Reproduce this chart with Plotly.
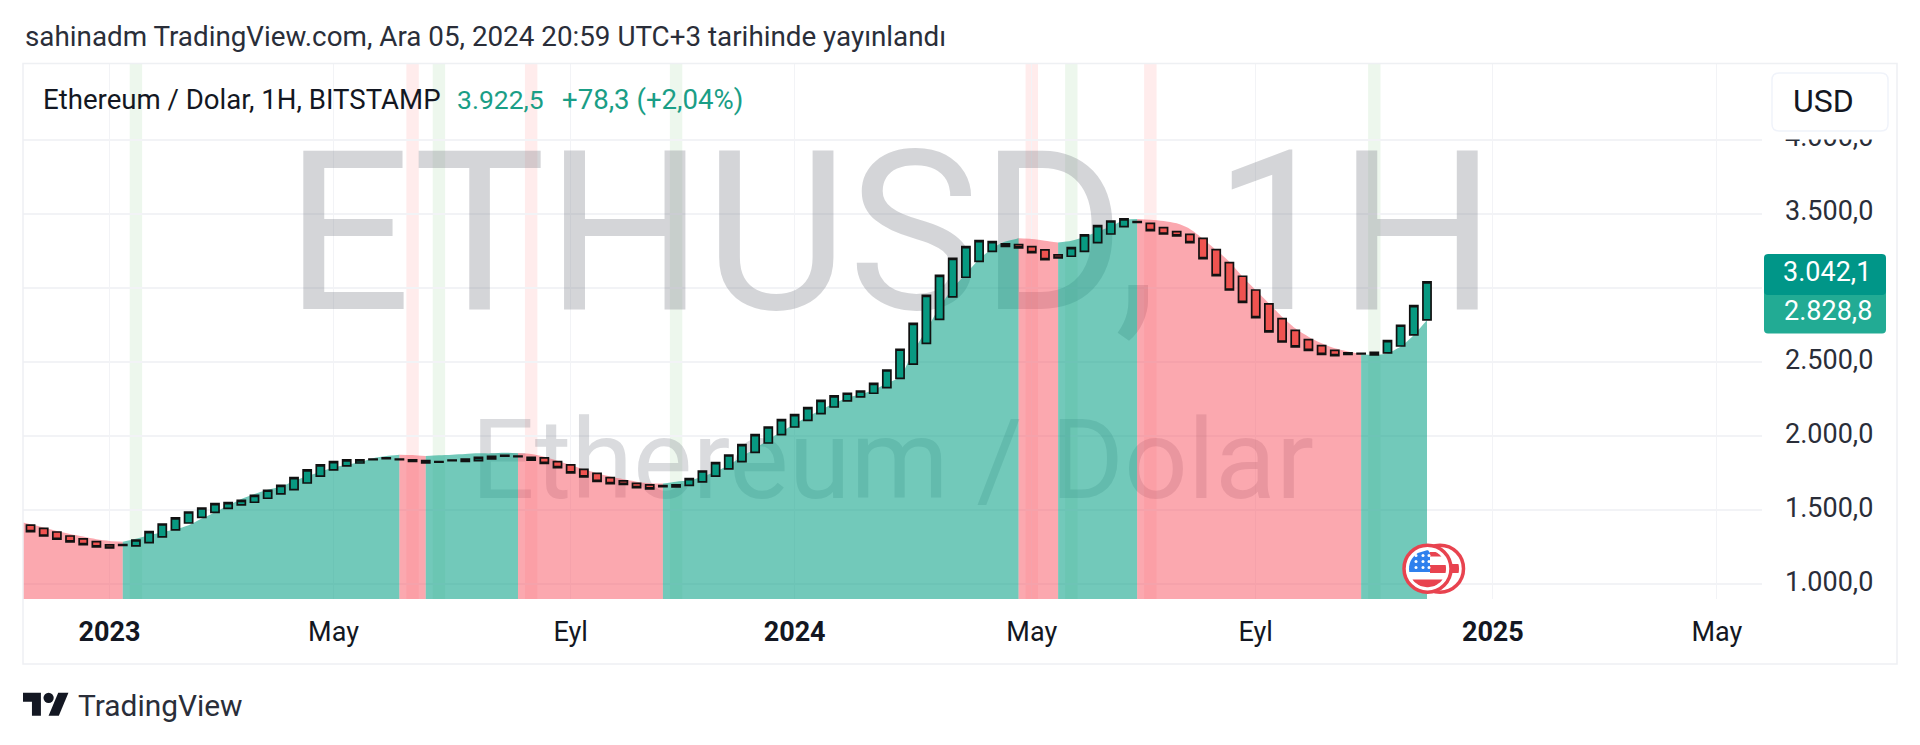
import math
import numpy as np
import pandas as pd
import plotly.graph_objects as go

# ---------------- data ----------------
first_week = "2022-11-21"
candle_open = [1400,1378,1353,1326,1306,1288,1266,1263,1259,1281,1320,1367,1414,1452,1486,1513,1536,1554,1581,1610,
               1639,1684,1731,1772,1799,1819,1842,1848,1846,1840,1835,1824,1835,1830,1835,1846,1866,1866,1857,1853,
               1828,1806,1776,1749,1720,1698,1682,1671,1666,1657,1668,1691,1731,1779,1828,1891,1954,2011,2062,2107,
               2152,2197,2238,2265,2290,2328,2391,2487,2627,2789,2940,3073,3181,3248,3282,3293,3280,3258,3224,3215,
               3248,3307,3365,3415,3449,3437,3408,3381,3363,3336,3260,3172,3080,2987,2893,2794,2715,2652,2611,2580,
               2562,2555,2549,2562,2609,2684,2785]
candle_close = [1356,1326,1304,1286,1268,1252,1245,1268,1299,1356,1407,1448,1488,1515,1545,1551,1567,1601,1635,1668,
                1720,1772,1806,1828,1840,1840,1846,1853,1842,1830,1819,1828,1839,1846,1857,1864,1871,1862,1839,1817,
                1788,1752,1725,1695,1680,1675,1653,1644,1659,1671,1713,1765,1821,1873,1943,2011,2062,2112,2145,2193,
                2242,2272,2290,2305,2357,2447,2587,2762,2951,3086,3201,3280,3320,3314,3298,3271,3239,3192,3203,3273,
                3359,3422,3453,3467,3444,3388,3365,3352,3307,3199,3084,2987,2904,2800,2704,2636,2603,2580,2553,2544,
                2553,2560,2566,2645,2749,2882,3042.1]
curve_start = "2022-11-14"
curve_values = [1425,1405,1383,1360,1340,1322,1304,1293,1288,1308,1331,1351,1371,1399,1444,1487,1532,1576,1610,1639,
                1659,1698,1732,1759,1790,1806,1825,1851,1866,1875,1873,1866,1871,1875,1880,1884,1884,1889,1884,1880,
                1862,1835,1806,1776,1749,1727,1709,1693,1682,1680,1693,1700,1727,1761,1806,1862,1918,1975,2031,2083,
                2132,2177,2222,2260,2283,2312,2357,2402,2571,2717,2870,2999,3095,3194,3268,3314,3336,3332,3320,3307,
                3320,3347,3381,3415,3460,3467,3462,3453,3437,3399,3332,3257,3178,3077,2987,2897,2807,2729,2672,2627,
                2593,2571,2553,2548,2560,2605,2684,2785]
regime_starts = ["2022-11-14","2023-01-09","2023-06-05","2023-06-19","2023-08-07","2023-10-23",
                 "2024-04-29","2024-05-20","2024-07-01","2024-10-28"]
regime_ends =   ["2023-01-09","2023-06-05","2023-06-19","2023-08-07","2023-10-23","2024-04-29",
                 "2024-05-20","2024-07-01","2024-10-28","2024-12-02"]
regime_up = [False,True,False,True,False,True,False,True,False,True]
band_weeks = ["2023-01-16","2023-06-12","2023-06-26","2023-08-14","2023-10-30",
              "2024-05-06","2024-05-27","2024-07-08","2024-11-04"]
band_up = [True,False,True,False,True,False,True,False,True]
x_ticks = ["2023-01-02","2023-05-01","2023-09-04","2024-01-01","2024-05-06","2024-09-02","2025-01-06","2025-05-05"]
x_labels = ["<b>2023</b>","May","Eyl","<b>2024</b>","May","Eyl","<b>2025</b>","May"]
y_ticks = [1000,1500,2000,2500,3000,3500,4000]
y_labels = ["1.000,0","1.500,0","2.000,0","2.500,0","","3.500,0","4.000,0"]

# ---------------- layout geometry ----------------
L, R, T, B = 23, 1762, 64, 599
FONT = "Roboto"
def xp(px): return (px - L) / (R - L)
def yp(py): return (B - py) / (B - T)
def pt(x, y): return f"{xp(x):.5f},{yp(y):.5f}"
def rect(x0, y0, x1, y1, fill, line=None, lw=0, layer="above"):
    return dict(type="rect", xref="paper", yref="paper", x0=xp(x0), x1=xp(x1), y0=yp(y0), y1=yp(y1),
                fillcolor=fill, line=dict(color=line or "rgba(0,0,0,0)", width=lw), layer=layer)
def circ(cx, cy, r, fill, line=None, lw=0):
    return dict(type="circle", xref="paper", yref="paper", x0=xp(cx-r), x1=xp(cx+r), y0=yp(cy-r), y1=yp(cy+r),
                fillcolor=fill, line=dict(color=line or "rgba(0,0,0,0)", width=lw), layer="above")
def poly(points, fill):
    return dict(type="path", xref="paper", yref="paper", layer="above", fillcolor=fill, line=dict(width=0),
                path="M" + " L".join(pt(x, y) for x, y in points) + " Z")
def rrect(x0, y0, x1, y1, r, fill, line=None, lw=0):
    path = (f"M{pt(x0+r,y0)} L{pt(x1-r,y0)} Q{pt(x1,y0)} {pt(x1,y0+r)} L{pt(x1,y1-r)} Q{pt(x1,y1)} {pt(x1-r,y1)} "
            f"L{pt(x0+r,y1)} Q{pt(x0,y1)} {pt(x0,y1-r)} L{pt(x0,y0+r)} Q{pt(x0,y0)} {pt(x0+r,y0)} Z")
    return dict(type="path", xref="paper", yref="paper", layer="above", fillcolor=fill,
                line=dict(color=line or "rgba(0,0,0,0)", width=lw), path=path)
def disc_part(cx, cy, r, x0, x1, y0, y1, fill):
    y0, y1 = max(y0, cy-r+0.01), min(y1, cy+r-0.01)
    ys = np.linspace(y0, y1, 9)
    left, right = [], []
    for y in ys:
        h = math.sqrt(r*r-(y-cy)**2)
        a, b = max(x0, cx-h), min(x1, cx+h)
        left.append((a, y)); right.append((b, y))
    return poly(left + right[::-1], fill)

# ---------------- traces ----------------
week_index = pd.date_range(first_week, periods=len(candle_open), freq="7D")
curve_index = pd.date_range(curve_start, periods=len(curve_values), freq="7D")
curve = pd.Series(curve_values, index=curve_index)

fig = go.Figure()
WM = "rgba(120,123,134,0.32)"
fig.add_trace(go.Scatter(x=["2024-02-21"], y=[3232], mode="text", text=["ETHUSD, 1H"], hoverinfo="skip", showlegend=False,
                         textposition="middle center", textfont=dict(family=FONT, size=222, color=WM)))
fig.add_trace(go.Scatter(x=["2024-02-22"], y=[1770], mode="text", text=["Ethereum / Dolar"], hoverinfo="skip", showlegend=False,
                         textposition="middle center", textfont=dict(family=FONT, size=112, color="rgba(120,123,134,0.27)")))
for s, e, up in zip(regime_starts, regime_ends, regime_up):
    seg = curve[s:e]
    fig.add_trace(go.Scatter(x=seg.index, y=seg.values, mode="lines", line=dict(width=0, shape="spline", smoothing=0.8),
                             fill="tozeroy", showlegend=False, hoverinfo="skip",
                             fillcolor="rgba(20,165,140,0.60)" if up else "rgba(247,82,95,0.50)"))
highs = np.maximum(candle_open, candle_close)
lows = np.minimum(candle_open, candle_close)
fig.add_trace(go.Candlestick(x=week_index, open=candle_open, high=highs, low=lows, close=candle_close, yaxis="y2",
                             whiskerwidth=0, showlegend=False,
                             increasing=dict(fillcolor="#089981", line=dict(color="#111111", width=1.7)),
                             decreasing=dict(fillcolor="#ef5350", line=dict(color="#111111", width=1.7))))

# ---------------- shapes ----------------
shapes = []
half = pd.Timedelta(days=3.3)
for w, up in zip(band_weeks, band_up):
    c = pd.Timestamp(w)
    shapes.append(dict(type="rect", xref="x", yref="paper", x0=c-half, x1=c+half, y0=0, y1=1, layer="between",
                       fillcolor="rgba(76,175,80,0.10)" if up else "rgba(255,82,82,0.11)", line=dict(width=0)))
# frame, USD button, price labels
BORDER = "#eef0f3"
shapes.append(rect(R+1, T-1, 1895, 139.5, "white"))
shapes.append(rect(23, 63.5, 1897, 664, "rgba(0,0,0,0)", BORDER, 1.5))
shapes.append(rrect(1772, 73, 1888, 131, 7, "white", "#f0f3fa", 1.5))
shapes.append(rrect(1764, 284, 1886, 333.5, 4, "#22ab94"))
shapes.append(rrect(1764, 254, 1886, 295, 4, "#009688"))
# coin icon
RED = "#e8434f"
cb, cf, cy = 1440, 1427.5, 568.7
shapes.append(circ(cb, cy, 23.5, "white", RED, 3.5))
shapes.append(disc_part(cb, cy, 19, 1440, 1470, 564, 573, RED))
shapes.append(circ(cf, cy, 23.5, "white", RED, 3.5))
rf = 18.5
shapes.append(disc_part(cf, cy, rf, 1430, 1460, 552, 556.5, RED))
shapes.append(disc_part(cf, cy, rf, 1430, 1460, 565, 573, RED))
shapes.append(disc_part(cf, cy, rf, 1400, 1460, 579.5, 590, RED))
shapes.append(disc_part(cf, cy, rf, 1400, 1430, 550, 572, "#2f80ed"))
for sx in (1416, 1423, 1429):
    for sy in (555.5, 561.5, 567.5):
        shapes.append(circ(sx, sy, 1.5, "white"))
# TradingView logo
S = 1.28
def lg(ux, uy): return (23 + ux*S, 692.7 + (uy-4)*S)
shapes.append(poly([lg(14,22),lg(7,22),lg(7,11),lg(0,11),lg(0,4),lg(14,4)], "#131722"))
shapes.append(poly([lg(28,22),lg(20,22),lg(27.5,4),lg(35.5,4)], "#131722"))
shapes.append(circ(*lg(20,8), 4*S, "#131722"))

# ---------------- texts ----------------
def note(text, x, y, size, color="#131722", anchor="left"):
    return dict(text=text, xref="paper", yref="paper", x=xp(x), y=yp(y), xanchor=anchor, yanchor="middle",
                showarrow=False, align=anchor, font=dict(family=FONT, size=size, color=color))
GREEN = "#1a9e86"
annotations = [
    note("sahinadm TradingView.com, Ara 05, 2024 20:59 UTC+3 tarihinde yayınlandı", 23, 36, 27.8, "#2a2e39"),
    note("Ethereum / Dolar, 1H, BITSTAMP", 41, 99, 27.6, "#131722"),
    note("3.922,5", 455, 99, 26.5, GREEN),
    note("+78,3 (+2,04%)", 560, 99, 27.6, GREEN),
    note("USD", 1823.5, 101, 32, "#131722", "center"),
    note("3.042,1", 1873, 272, 27, "white", "right"),
    note("2.828,8", 1874, 310.5, 27, "white", "right"),
    note("TradingView", 76, 705, 29.9, "#2a2e39"),
]

GRID = "#f2f3f6"
anchor = pd.Timestamp("2023-01-02")
fig.update_layout(
    width=1920, height=745, autosize=False, paper_bgcolor="white", plot_bgcolor="white",
    margin=dict(l=L, r=1920-R, t=T, b=745-B, pad=0), showlegend=False,
    boxgap=0.12, hovermode=False, shapes=shapes, annotations=annotations,
    font=dict(family=FONT),
    xaxis=dict(type="date", range=[anchor - pd.Timedelta(days=46), anchor + pd.Timedelta(days=878)],
               tickmode="array", tickvals=x_ticks, ticktext=x_labels, showgrid=True, gridcolor=GRID, gridwidth=1,
               ticks="", ticklabelstandoff=14, tickfont=dict(family=FONT, size=27, color="#131722"),
               showline=False, zeroline=False, rangeslider=dict(visible=False)),
    yaxis=dict(range=[900.7, 4513], side="right", tickmode="array", tickvals=y_ticks, ticktext=y_labels,
               showgrid=True, gridcolor=GRID, gridwidth=1.5, ticks="", ticklabelstandoff=22, ticklabelshift=-3,
               tickfont=dict(family=FONT, size=27, color="#2a2e39"), showline=False, zeroline=False),
    yaxis2=dict(range=[900.7, 4513], overlaying="y", side="right", visible=False),
)
fig.write_html("out.html", config={"displayModeBar": False},
               post_script="document.body.style.margin='0';document.body.style.overflow='hidden';")
